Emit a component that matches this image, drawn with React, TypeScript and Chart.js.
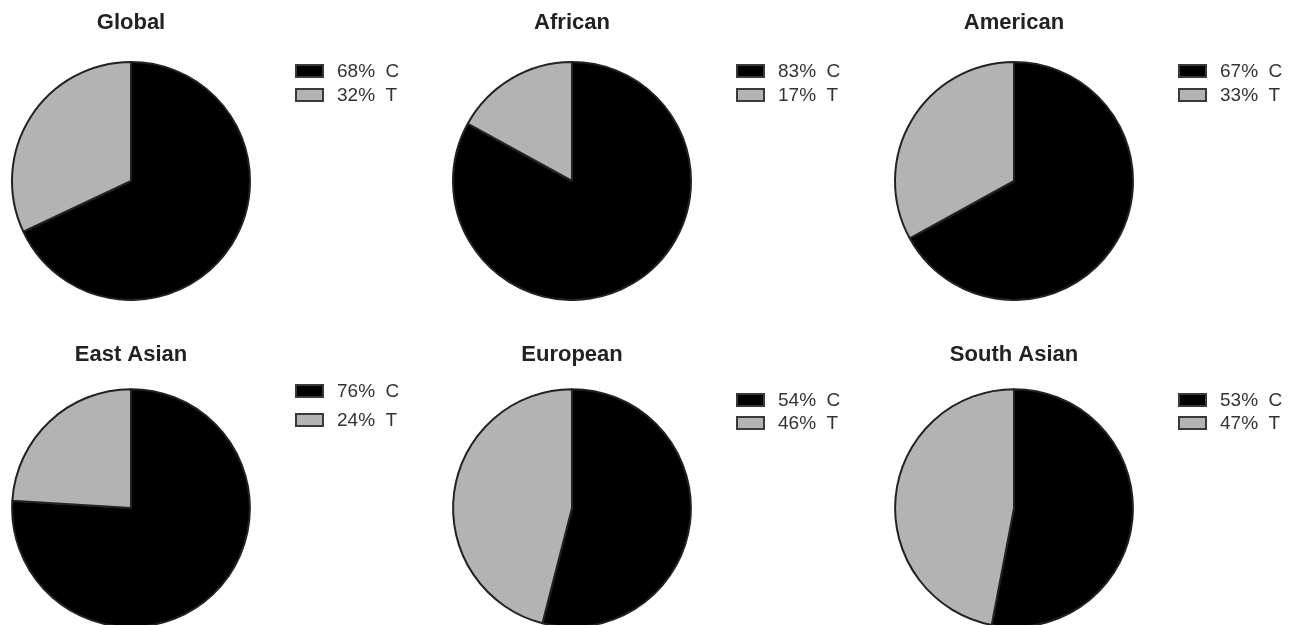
import React, { useEffect, useRef } from "react";
import { Chart, registerables } from "chart.js";

Chart.register(...registerables);

const REGIONS = ["Global", "African", "American", "East Asian", "European", "South Asian"];
const ALLELES = ["C", "T"];
const C_PCT = [68, 83, 67, 76, 54, 53];
const T_PCT = [32, 17, 33, 24, 46, 47];

const COLORS = ["#000000", "#b3b3b3"];
const FONT = "'Liberation Sans', Arial, Helvetica, sans-serif";

// layout per panel (page coords)
const COL_CX = [131, 572, 1014];
const ROW_TOP = [0, 333];
const TITLE_PAD = [
  { top: 10, bottom: 24.6 },
  { top: 8.4, bottom: 20.4 },
];
const CANVAS_H = [301, 295];
// legend row centers relative to canvas top
const LEGEND_Y = [
  [71, 95],
  [71, 95],
  [71, 95],
  [58, 87],
  [67, 90],
  [67, 90],
];

const legendPlugin = {
  id: "sideLegend",
  afterDraw(chart: any, _args: any, opts: any) {
    const ctx = chart.ctx;
    const meta = chart.getDatasetMeta(0);
    const arc = meta.data[0];
    if (!arc) return;
    const cx = arc.x;
    const ds = chart.data.datasets[0];
    const labels = chart.data.labels;
    ctx.save();
    ctx.font = `19px ${FONT}`;
    ctx.textBaseline = "middle";
    ctx.textAlign = "left";
    labels.forEach((lab: string, k: number) => {
      const y = opts.ys[k];
      const bx = cx + 165;
      const bw = 27, bh = 12;
      ctx.fillStyle = ds.backgroundColor[k];
      ctx.strokeStyle = "#3a3a3a";
      ctx.lineWidth = 2;
      ctx.beginPath();
      ctx.rect(bx, y - bh / 2, bw, bh);
      ctx.fill();
      ctx.stroke();
      ctx.fillStyle = "#333333";
      ctx.fillText(`${ds.data[k]}%  ${lab}`, bx + 41, y + 1);
    });
    ctx.restore();
  },
};

function Pie({ idx }: { idx: number }) {
  const ref = useRef<HTMLCanvasElement | null>(null);
  const row = Math.floor(idx / 3);
  const col = idx % 3;
  const left = COL_CX[col] - 130;
  const top = ROW_TOP[row];
  const W = 440;
  const H = CANVAS_H[row];
  useEffect(() => {
    if (!ref.current) return;
    const chart = new Chart(ref.current, {
      type: "pie",
      data: {
        labels: ALLELES,
        datasets: [
          {
            data: [C_PCT[idx], T_PCT[idx]],
            backgroundColor: COLORS,
            borderColor: "#222222",
            borderWidth: 2,
          },
        ],
      },
      options: {
        responsive: false,
        animation: false,
        devicePixelRatio: 1,
        layout: { padding: { left: 10, right: 190, top: 0, bottom: 0 } },
        plugins: {
          legend: { display: false },
          tooltip: { enabled: false },
          title: {
            display: true,
            text: REGIONS[idx],
            fullSize: false,
            color: "#222222",
            font: { size: 22, weight: "bold", family: FONT, lineHeight: 1.2 },
            padding: TITLE_PAD[row],
          },
          sideLegend: { ys: LEGEND_Y[idx] },
        } as any,
      },
      plugins: [legendPlugin],
    });
    return () => chart.destroy();
  }, [idx]);
  return (
    <canvas
      ref={ref}
      width={W}
      height={H}
      style={{ position: "absolute", left, top, width: W, height: H }}
    />
  );
}

export default function App() {
  return (
    <div
      style={{
        position: "fixed",
        left: 0,
        top: 0,
        width: 1293,
        height: 625,
        overflow: "hidden",
        background: "#ffffff",
      }}
    >
      {REGIONS.map((_, i) => (
        <Pie key={i} idx={i} />
      ))}
    </div>
  );
}
